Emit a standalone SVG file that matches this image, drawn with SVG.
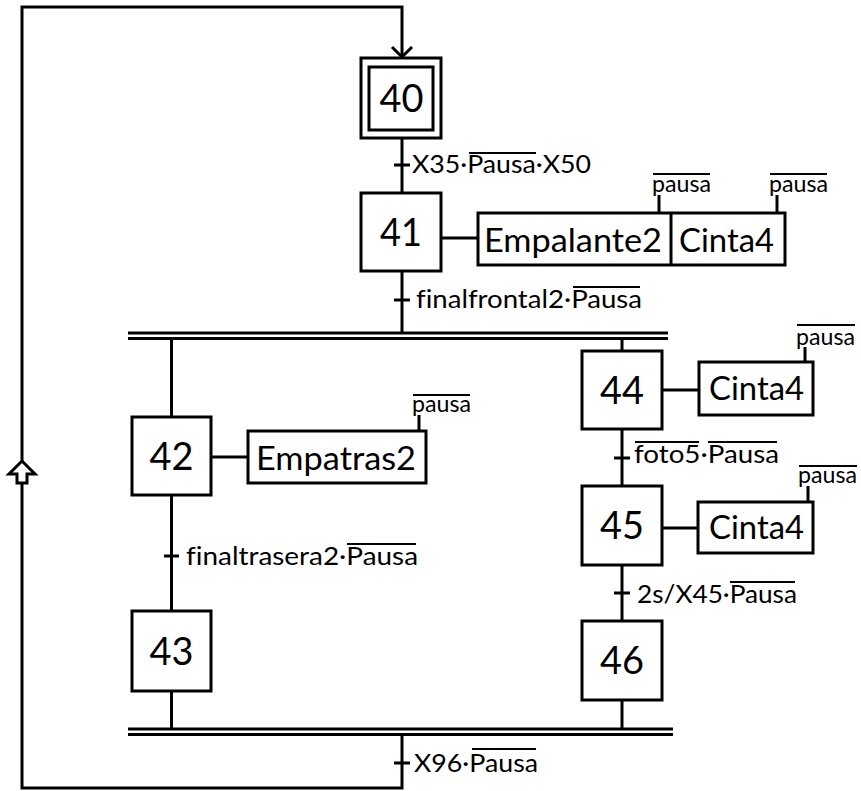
<svg xmlns="http://www.w3.org/2000/svg" width="861" height="791" viewBox="0 0 861 791">
<style>
.box{fill:#fff;stroke:#000;stroke-width:3}
.ln{fill:none;stroke:#000;stroke-width:3}
.thin{fill:none;stroke:#000;stroke-width:2}
text{font-family:Lato,"Liberation Sans",sans-serif;fill:#000;font-variant-ligatures:none}
.num{font-size:38px;text-anchor:middle}
.act{font-size:32px}
.lbl{font-size:25px}
.sm{font-size:24px}
</style>
<rect width="861" height="791" fill="#fff"/>
<g id="connectors">
  <polyline class="ln" points="402,734 402,788 22,788 22,7 402,7 402,57"/>
  <polyline class="ln" points="392,47 402,57 412,47"/>
  <polygon class="box" points="22,461 9,474 17,474 17,483 27,483 27,474 35,474"/>
  <line class="ln" x1="402" y1="138" x2="402" y2="193"/>
  <line class="ln" x1="394" y1="165" x2="410" y2="165"/>
  <line class="ln" x1="402" y1="271" x2="402" y2="333"/>
  <line class="ln" x1="394" y1="300" x2="410" y2="300"/>
  <line class="ln" x1="128" y1="333" x2="668" y2="333"/>
  <line class="ln" x1="128" y1="338.5" x2="668" y2="338.5"/>
  <line class="ln" x1="171.5" y1="338" x2="171.5" y2="417"/>
  <line class="ln" x1="171.5" y1="495" x2="171.5" y2="611"/>
  <line class="ln" x1="164" y1="556" x2="179" y2="556"/>
  <line class="ln" x1="171.5" y1="691" x2="171.5" y2="729"/>
  <line class="ln" x1="622" y1="338" x2="622" y2="351"/>
  <line class="ln" x1="622" y1="429" x2="622" y2="486"/>
  <line class="ln" x1="614" y1="458" x2="630" y2="458"/>
  <line class="ln" x1="622" y1="565" x2="622" y2="621"/>
  <line class="ln" x1="614" y1="593" x2="630" y2="593"/>
  <line class="ln" x1="622" y1="700" x2="622" y2="729"/>
  <line class="ln" x1="128" y1="729" x2="673" y2="729"/>
  <line class="ln" x1="128" y1="734.5" x2="673" y2="734.5"/>
  <line class="ln" x1="394" y1="763" x2="410" y2="763"/>
  <line class="ln" x1="441" y1="238" x2="478" y2="238"/>
  <line class="ln" x1="211" y1="457" x2="248" y2="457"/>
  <line class="ln" x1="662" y1="390" x2="699" y2="390"/>
  <line class="ln" x1="662" y1="528" x2="698" y2="528"/>
</g>
<g id="transitions">
  <text class="lbl" x="412" y="173" textLength="179" lengthAdjust="spacingAndGlyphs">X35·Pausa·X50</text>
  <line class="thin" x1="469" y1="153" x2="536" y2="153"/>
  <text class="lbl" x="416" y="308" textLength="226" lengthAdjust="spacingAndGlyphs">finalfrontal2·Pausa</text>
  <line class="thin" x1="573" y1="287" x2="640" y2="287"/>
  <text class="lbl" x="186" y="565" textLength="232" lengthAdjust="spacingAndGlyphs">finaltrasera2·Pausa</text>
  <line class="thin" x1="347" y1="544" x2="416" y2="544"/>
  <text class="lbl" x="634" y="463" textLength="145" lengthAdjust="spacingAndGlyphs">foto5·Pausa</text>
  <line class="thin" x1="635" y1="442" x2="699" y2="442"/>
  <line class="thin" x1="708" y1="442" x2="777" y2="442"/>
  <text class="lbl" x="637" y="603" textLength="160" lengthAdjust="spacingAndGlyphs">2s/X45·Pausa</text>
  <line class="thin" x1="730" y1="582" x2="795" y2="582"/>
  <text class="lbl" x="414" y="772" textLength="124" lengthAdjust="spacingAndGlyphs">X96·Pausa</text>
  <line class="thin" x1="472" y1="749" x2="536" y2="749"/>
</g>
<g id="step40">
  <rect class="box" x="361" y="58" width="80" height="80"/>
  <rect class="box" x="369" y="67" width="64" height="63"/>
  <text class="num" x="401.5" y="112" textLength="44" lengthAdjust="spacingAndGlyphs">40</text>
</g>
<g id="step41">
  <rect class="box" x="361" y="193" width="80" height="78"/>
  <text class="num" x="401" y="246" textLength="42" lengthAdjust="spacingAndGlyphs">41</text>
</g>
<g id="action41">
  <rect class="box" x="478" y="213" width="307" height="52"/>
  <line class="ln" x1="671" y1="213" x2="671" y2="265"/>
  <text class="act" x="484" y="252" textLength="178" lengthAdjust="spacingAndGlyphs">Empalante2</text>
  <text class="act" x="679" y="252" textLength="95" lengthAdjust="spacingAndGlyphs">Cinta4</text>
  <line class="ln" x1="659" y1="195" x2="659" y2="213"/>
  <text class="sm" x="652" y="192" textLength="59" lengthAdjust="spacingAndGlyphs">pausa</text>
  <line class="thin" x1="653" y1="174" x2="710" y2="174"/>
  <line class="ln" x1="777" y1="195" x2="777" y2="213"/>
  <text class="sm" x="769" y="192" textLength="59" lengthAdjust="spacingAndGlyphs">pausa</text>
  <line class="thin" x1="770" y1="174" x2="827" y2="174"/>
</g>
<g id="step42">
  <rect class="box" x="132" y="417" width="79" height="78"/>
  <text class="num" x="171.5" y="470" textLength="44" lengthAdjust="spacingAndGlyphs">42</text>
</g>
<g id="action42">
  <rect class="box" x="248" y="431" width="178" height="52"/>
  <text class="act" x="256" y="470" textLength="160" lengthAdjust="spacingAndGlyphs">Empatras2</text>
  <line class="ln" x1="419" y1="415" x2="419" y2="431"/>
  <text class="sm" x="412" y="412" textLength="59" lengthAdjust="spacingAndGlyphs">pausa</text>
  <line class="thin" x1="413" y1="395" x2="470" y2="395"/>
</g>
<g id="step43">
  <rect class="box" x="132" y="611" width="79" height="80"/>
  <text class="num" x="171.5" y="665" textLength="44" lengthAdjust="spacingAndGlyphs">43</text>
</g>
<g id="step44">
  <rect class="box" x="582" y="351" width="80" height="78"/>
  <text class="num" x="622" y="404" textLength="44" lengthAdjust="spacingAndGlyphs">44</text>
</g>
<g id="action44">
  <rect class="box" x="699" y="362" width="114" height="53"/>
  <text class="act" x="709" y="400" textLength="95" lengthAdjust="spacingAndGlyphs">Cinta4</text>
  <line class="ln" x1="805" y1="347" x2="805" y2="362"/>
  <text class="sm" x="796" y="345" textLength="59" lengthAdjust="spacingAndGlyphs">pausa</text>
  <line class="thin" x1="797" y1="325" x2="855" y2="325"/>
</g>
<g id="step45">
  <rect class="box" x="582" y="486" width="80" height="79"/>
  <text class="num" x="622" y="539" textLength="44" lengthAdjust="spacingAndGlyphs">45</text>
</g>
<g id="action45">
  <rect class="box" x="698" y="502" width="115" height="51"/>
  <text class="act" x="709" y="539" textLength="95" lengthAdjust="spacingAndGlyphs">Cinta4</text>
  <line class="ln" x1="808" y1="486" x2="808" y2="502"/>
  <text class="sm" x="798" y="483" textLength="59" lengthAdjust="spacingAndGlyphs">pausa</text>
  <line class="thin" x1="799" y1="466" x2="857" y2="466"/>
</g>
<g id="step46">
  <rect class="box" x="582" y="621" width="80" height="79"/>
  <text class="num" x="622" y="674" textLength="44" lengthAdjust="spacingAndGlyphs">46</text>
</g>
</svg>
